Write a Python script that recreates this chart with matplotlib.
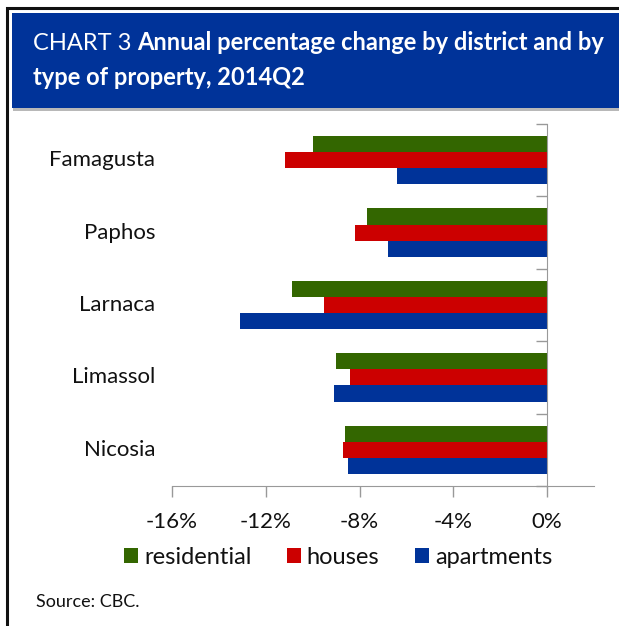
import matplotlib
matplotlib.use("Agg")
import matplotlib.pyplot as plt
from matplotlib.patches import Rectangle

plt.rcParams['font.family'] = ['Lato', 'DejaVu Sans']

districts = ['Famagusta', 'Paphos', 'Larnaca', 'Limassol', 'Nicosia']
residential = [-10.0, -7.7, -10.9, -9.0, -8.6]
houses = [-11.2, -8.2, -9.5, -8.4, -8.7]
apartments = [-6.4, -6.8, -13.1, -9.1, -8.5]
series_names = ['residential', 'houses', 'apartments']
colors = ['#336600', '#CC0000', '#003399']
xticks = [-16, -12, -8, -4, 0]

W, H = 619, 626
fig = plt.figure(figsize=(W / 100, H / 100), dpi=100)


def fx(px):
    return px / W


def fy(py):
    return 1 - py / H


# outer frame and header box
fig.patches.append(Rectangle((fx(7), fy(700)), fx(700), fy(8) - fy(700),
                             transform=fig.transFigure, fill=False,
                             edgecolor='#111111', linewidth=2.2))
fig.patches.append(Rectangle((fx(13), fy(111)), fx(700), fy(14) - fy(111),
                             transform=fig.transFigure, facecolor='#b8b8b8',
                             edgecolor='none'))
fig.patches.append(Rectangle((fx(12), fy(108)), fx(700), fy(13) - fy(108),
                             transform=fig.transFigure, facecolor='#003399',
                             edgecolor='none'))

t1 = fig.text(fx(33), fy(50), 'CHART 3 ', color='white', fontsize=17,
              ha='left', va='baseline')
fig.canvas.draw()
bb = t1.get_window_extent()
fig.text(bb.x1 / W, fy(50), 'Annual percentage change by district and by',
         color='white', fontsize=17, fontweight='bold', ha='left', va='baseline')
fig.text(fx(33), fy(85), 'type of property, 2014Q2', color='white',
         fontsize=17, fontweight='bold', ha='left', va='baseline')

ax = fig.add_axes([fx(172), fy(486), fx(594) - fx(172), fy(124) - fy(486)])

ypos = [len(districts) - 1 - i for i in range(len(districts))]
h = 0.222
for vals, off, c, name in zip([residential, houses, apartments], [h, 0, -h],
                              colors, series_names):
    ax.barh([y + off for y in ypos], vals, height=h, color=c, label=name)

ax.set_xlim(-16, 2)
ax.set_ylim(-0.5, len(districts) - 0.5)
ax.set_xticks(xticks)
ax.set_xticklabels([f'{v}%' for v in xticks], fontsize=16, color='#111111')
ax.tick_params(axis='x', length=8, width=1, color='#999999', pad=11)

for s in ['top', 'right']:
    ax.spines[s].set_visible(False)
ax.spines['bottom'].set_color('#999999')
ax.spines['left'].set_position(('data', 0))
ax.spines['left'].set_color('#999999')
ax.set_yticks([y - 0.5 for y in range(len(districts) + 1)])
ax.set_yticklabels([])
ax.tick_params(axis='y', length=8, width=1, color='#999999', direction='out')

for name, y in zip(districts, ypos):
    ax.annotate(name, xy=(0, y), xycoords=('axes fraction', 'data'),
                xytext=(-17, 0), textcoords='offset pixels', ha='right',
                va='center', fontsize=16, color='#111111')

fig.legend(*ax.get_legend_handles_labels(), loc='center',
           bbox_to_anchor=(fx(338), fy(557)), ncol=3, frameon=False,
           fontsize=17, handlelength=0.6, handleheight=0.6, handletextpad=0.25,
           columnspacing=1.5, labelcolor='#111111')

fig.text(fx(36), fy(607), 'Source: CBC.', fontsize=13, color='#111111',
         ha='left', va='baseline')

fig.savefig('out.png', dpi=100)
